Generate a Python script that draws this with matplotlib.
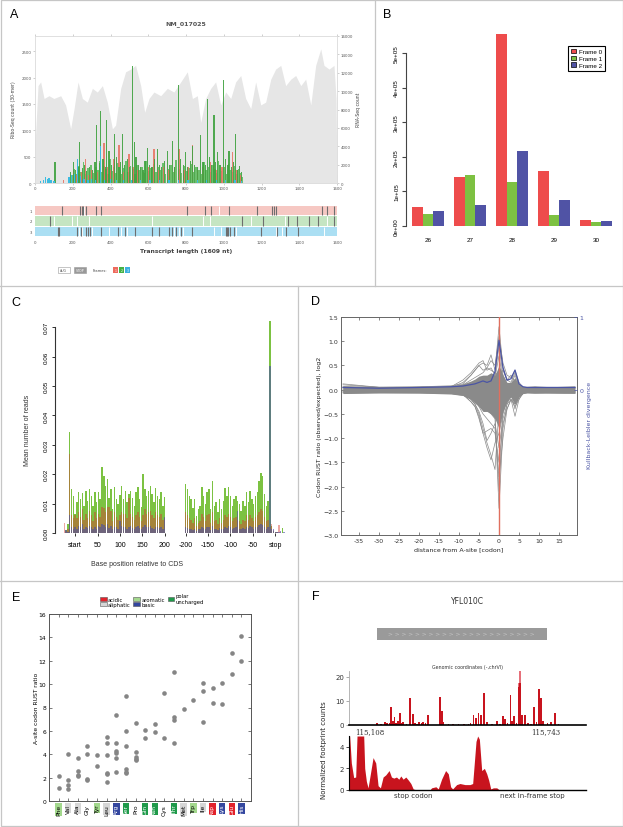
import numpy as np
import matplotlib
matplotlib.use('Agg')
import matplotlib.pyplot as plt
from matplotlib.patches import Rectangle, Patch
from matplotlib.lines import Line2D

W, H = 623, 828

# ---------------- panel A data ----------------
rna_pos = [0, 16, 30, 48, 74, 100, 136, 162, 189, 207, 228, 251, 277, 304, 330, 357, 383, 410,
           427, 454, 480, 507, 533, 560, 581, 604, 630, 666, 701, 736, 772, 807, 834, 860, 878,
           904, 931, 957, 984, 1010, 1037, 1063, 1090, 1116, 1143, 1169, 1196, 1222, 1249, 1275,
           1302, 1328, 1355, 1381, 1408, 1434, 1461, 1487, 1514, 1531, 1558, 1584, 1595, 1600]
rna_val = [4100, 10600, 11000, 9200, 9500, 9200, 9500, 8500, 5900, 8100, 11000, 9200, 8800, 10300,
           9900, 10600, 8800, 5900, 6300, 10300, 12100, 12400, 12800, 10600, 7700, 9200, 9900,
           9500, 10300, 9900, 11000, 12100, 9200, 9500, 6600, 9200, 10300, 11000, 8500, 9900,
           9200, 11000, 11700, 9200, 8100, 11000, 8500, 8800, 11300, 12400, 12800, 10600, 11300,
           11700, 10600, 11300, 8500, 12800, 14600, 12800, 12400, 12800, 9200, 0]

green_pos = [106, 190, 203, 215, 228, 238, 250, 262, 275, 290, 305, 318, 327, 340, 348, 360, 372,
             380, 392, 405, 422, 433, 445, 455, 463, 475, 488, 500, 516, 525, 535, 548, 560, 572,
             583, 595, 608, 620, 635, 648, 660, 672, 685, 701, 714, 728, 740, 759, 770, 785, 798,
             810, 822, 834, 846, 860, 878, 890, 902, 913, 925, 937, 948, 958, 966, 980, 998, 1010,
             1020, 1028, 1040, 1052, 1063, 1075, 1083, 1092]
green_h = [394, 200, 394, 250, 300, 770, 280, 350, 220, 300, 250, 400, 1094, 380, 1360, 450, 300,
           1200, 600, 350, 925, 500, 300, 400, 925, 350, 450, 300, 2220, 770, 500, 350, 300, 250,
           420, 656, 350, 300, 450, 640, 350, 300, 420, 610, 350, 800, 300, 1860, 450, 350, 580,
           300, 420, 700, 350, 300, 906, 400, 350, 1594, 500, 350, 1300, 400, 580, 350, 1956, 450,
           350, 610, 300, 400, 937, 250, 330, 200]
# smaller, paler green bars filling the coding region
green2_pos = [196, 209, 222, 233, 244, 256, 268, 282, 297, 311, 323, 334, 344, 354, 366, 376, 386,
              398, 411, 417, 428, 439, 450, 459, 469, 481, 494, 507, 520, 530, 541, 554, 566, 578,
              589, 601, 614, 627, 641, 654, 666, 678, 692, 707, 721, 734, 747, 765, 777, 792, 804,
              816, 828, 840, 853, 868, 884, 896, 907, 919, 931, 943, 953, 962, 973, 989, 1004, 1015,
              1024, 1034, 1046, 1058, 1069, 1079, 1088, 1096]
green2_h = [150, 260, 180, 320, 210, 400, 170, 280, 350, 190, 300, 240, 420, 200, 330, 260, 180,
            450, 230, 310, 190, 380, 250, 170, 290, 420, 210, 330, 260, 180, 350, 240, 300, 190,
            410, 220, 280, 360, 200, 300, 250, 380, 180, 270, 340, 210, 440, 260, 190, 320, 230,
            280, 360, 200, 310, 250, 180, 390, 240, 300, 200, 350, 260, 190, 420, 230, 300, 180,
            360, 250, 200, 320, 170, 260, 190, 120]
red_pos = [150, 203, 220, 245, 268, 285, 300, 330, 366, 385, 400, 419, 445, 470, 498, 520, 545,
           575, 600, 630, 655, 680, 710, 740, 763, 790, 815, 834, 860, 890, 931, 960, 990, 1020,
           1045, 1070, 1090]
red_h = [60, 240, 150, 200, 456, 150, 250, 200, 756, 300, 250, 456, 725, 200, 550, 300, 250, 200,
         300, 640, 250, 300, 250, 300, 640, 250, 300, 725, 250, 300, 394, 250, 300, 250, 580, 250,
         150]
cyan_pos = [30, 45, 57, 66, 74, 85, 100, 180, 195, 210, 224, 240, 260, 280, 300, 320, 348, 370,
            400, 430, 470, 510, 560, 610, 660, 710, 760, 810, 860, 910, 960, 1010, 1060, 1095]
cyan_h = [40, 60, 112, 80, 90, 50, 40, 120, 160, 180, 456, 140, 80, 60, 80, 60, 706, 60, 70, 50,
          60, 50, 60, 50, 60, 50, 60, 50, 60, 50, 60, 50, 60, 40]

stop_f1 = [141, 237, 247, 256, 270, 322, 352, 807, 901, 931, 1030, 1175, 1258, 1267, 1277, 1522,
           1545, 1584]
aug_f1 = [260, 975]
stop_f2 = [78, 1098, 1208, 1340, 1390, 1453, 1500, 1584]
aug_f2 = [101, 198, 224, 286, 622, 890, 925, 1146, 1323, 1549]
stop_f3 = [122, 127, 221, 242, 268, 281, 290, 348, 441, 475, 530, 622, 657, 710, 728, 745, 772,
           834, 1010, 1019, 1024, 1033, 1054, 1196, 1284, 1332, 1393]
aug_f3 = [233, 251, 304, 392, 457, 489, 736, 763, 786, 948, 987, 1063, 1275, 1310, 1531]

# ---------------- panel B data ----------------
read_lengths = ['26', '27', '28', '29', '30']
frame0 = [54700, 143000, 553700, 160300, 17300]
frame1 = [33600, 146800, 126700, 30700, 12500]
frame2 = [43200, 61400, 215900, 74900, 13400]

# ---------------- panel C data (mean reads, start side then stop side) ----------------
c_start_green = [0.0, 0.0010, 0.0030, 0.0343, 0.0150, 0.0125, 0.0065, 0.0105, 0.0139, 0.0116,
                 0.0136, 0.0093, 0.0144, 0.0110, 0.0150, 0.0127, 0.0093, 0.0139, 0.0105, 0.0139,
                 0.0116, 0.0224, 0.0195, 0.0160, 0.0184, 0.0120, 0.0150, 0.0082, 0.0156, 0.0116,
                 0.0099, 0.0130, 0.0160, 0.0116, 0.0144, 0.0105, 0.0133, 0.0144, 0.0118, 0.0093,
                 0.0139, 0.0156, 0.0116, 0.0088, 0.0200, 0.0150, 0.0127, 0.0144, 0.0161, 0.0133,
                 0.0105, 0.0152, 0.0127, 0.0116, 0.0139, 0.0093, 0.0122]
c_start_red = [0.0035, 0.0008, 0.0012, 0.0270, 0.0060, 0.0050, 0.0060, 0.0050, 0.0070, 0.0055,
               0.0080, 0.0045, 0.0065, 0.0050, 0.0075, 0.0060, 0.0040, 0.0070, 0.0050, 0.0065,
               0.0055, 0.0090, 0.0085, 0.0070, 0.0090, 0.0090, 0.0075, 0.0040, 0.0070, 0.0055,
               0.0045, 0.0060, 0.0070, 0.0065, 0.0065, 0.0050, 0.0120, 0.0065, 0.0055, 0.0045,
               0.0060, 0.0070, 0.0055, 0.0040, 0.0060, 0.0080, 0.0065, 0.0070, 0.0075, 0.0060,
               0.0050, 0.0070, 0.0060, 0.0055, 0.0065, 0.0045, 0.0050]
c_start_blue = [0.0, 0.0010, 0.0005, 0.0060, 0.0020, 0.0015, 0.0020, 0.0015, 0.0025, 0.0020,
                0.0030, 0.0015, 0.0020, 0.0018, 0.0025, 0.0020, 0.0012, 0.0022, 0.0015, 0.0025,
                0.0020, 0.0030, 0.0028, 0.0020, 0.0030, 0.0018, 0.0025, 0.0012, 0.0022, 0.0020,
                0.0015, 0.0040, 0.0025, 0.0020, 0.0022, 0.0015, 0.0020, 0.0025, 0.0018, 0.0012,
                0.0020, 0.0025, 0.0018, 0.0012, 0.0020, 0.0028, 0.0022, 0.0020, 0.0025, 0.0018,
                0.0015, 0.0022, 0.0020, 0.0018, 0.0022, 0.0015, 0.0055]
c_stop_green = [0.0167, 0.0150, 0.0127, 0.0116, 0.0084, 0.0116, 0.0059, 0.0082, 0.0093, 0.0156,
                0.0127, 0.0099, 0.0139, 0.0150, 0.0082, 0.0176, 0.0093, 0.0105, 0.0070, 0.0116,
                0.0082, 0.0110, 0.0152, 0.0127, 0.0156, 0.0127, 0.0093, 0.0116, 0.0127, 0.0110,
                0.0099, 0.0076, 0.0110, 0.0093, 0.0139, 0.0105, 0.0144, 0.0116, 0.0099, 0.0127,
                0.0139, 0.0178, 0.0203, 0.0195, 0.0133, 0.0093, 0.0110, 0.0722, 0.0025, 0.0007,
                0.0005, 0.0003, 0.0, 0.0, 0.0016, 0.0]
c_stop_red = [0.0070, 0.0060, 0.0050, 0.0045, 0.0035, 0.0050, 0.0025, 0.0035, 0.0040, 0.0065,
              0.0055, 0.0040, 0.0060, 0.0065, 0.0035, 0.0070, 0.0040, 0.0045, 0.0030, 0.0050,
              0.0035, 0.0045, 0.0060, 0.0055, 0.0065, 0.0055, 0.0040, 0.0050, 0.0055, 0.0045,
              0.0040, 0.0030, 0.0045, 0.0040, 0.0060, 0.0045, 0.0060, 0.0050, 0.0040, 0.0055,
              0.0060, 0.0070, 0.0080, 0.0075, 0.0055, 0.0040, 0.0045, 0.0020, 0.0030, 0.0010,
              0.0005, 0.0005, 0.0027, 0.0002, 0.0, 0.0]
c_stop_blue = [0.0020, 0.0018, 0.0015, 0.0012, 0.0010, 0.0015, 0.0008, 0.0012, 0.0015, 0.0020,
               0.0018, 0.0012, 0.0020, 0.0022, 0.0010, 0.0025, 0.0012, 0.0015, 0.0010, 0.0018,
               0.0012, 0.0015, 0.0022, 0.0018, 0.0025, 0.0020, 0.0015, 0.0018, 0.0020, 0.0075,
               0.0015, 0.0012, 0.0018, 0.0015, 0.0022, 0.0018, 0.0025, 0.0020, 0.0015, 0.0020,
               0.0022, 0.0028, 0.0030, 0.0028, 0.0020, 0.0015, 0.0020, 0.0569, 0.0015, 0.0012,
               0.0005, 0.0003, 0.0002, 0.0008, 0.0, 0.0003]
c_tick_labels = ['start', '50', '100', '150', '200', '-200', '-150', '-100', '-50', 'stop']

# ---------------- panel D data (values at a few codon positions) ----------------
d_pos = [-39, -30, -20, -12, -9, -7, -6, -5, -4, -3, -2, -1, 0, 1, 2, 3, 4, 5, 6, 7, 9, 12, 19]
d_core_hi = [0.08, 0.06, 0.06, 0.07, 0.12, 0.18, 0.22, 0.28, 0.30, 0.30, 0.35, 0.30, 0.50, 0.30,
             0.15, 0.15, 0.25, 0.10, 0.06, 0.05, 0.05, 0.05, 0.05]
d_core_lo = [-0.08, -0.07, -0.07, -0.09, -0.12, -0.20, -0.28, -0.35, -0.45, -0.45, -0.50, -0.60,
             -0.80, -0.45, -0.25, -0.15, -0.30, -0.15, -0.08, -0.07, -0.07, -0.07, -0.07]
d_lines = [
    [0.10, 0.05, 0.06, 0.08, 0.12, 0.30, 0.40, 0.50, 0.55, 0.50, 0.72, 0.40, 1.30, 0.45, 0.20, 0.15, 0.35, 0.10, 0.05, 0.04, 0.05, 0.04, 0.06],
    [-0.05, -0.04, -0.05, -0.06, -0.10, -0.20, -0.30, -0.50, -0.80, -1.10, -1.35, -1.65, -0.40, -0.20, -0.10, -0.10, -0.30, -0.15, -0.05, -0.05, -0.05, -0.05, -0.05],
    [-0.03, -0.05, -0.04, -0.05, -0.08, -0.10, -0.15, -0.20, -0.30, -0.40, -0.50, -0.60, -2.45, -0.80, -0.30, -0.10, -0.20, -0.10, -0.05, -0.04, -0.05, -0.04, -0.04],
    [-0.06, -0.05, -0.06, -0.07, -0.10, -0.25, -0.35, -0.60, -0.90, -1.20, -1.45, -1.10, -0.90, -0.50, -0.20, -0.10, -0.40, -0.10, -0.06, -0.05, -0.06, -0.05, -0.06],
    [0.02, -0.02, -0.03, -0.04, -0.08, -0.20, -0.30, -0.45, -0.70, -1.05, -0.90, -0.70, -1.20, -0.60, -0.30, -0.20, -0.55, -0.20, -0.05, -0.04, -0.03, -0.04, -0.03],
    [0.05, 0.04, 0.05, 0.06, 0.20, 0.35, 0.45, 0.55, 0.60, 0.40, 0.45, 0.30, 0.90, 0.30, 0.10, 0.10, 0.20, 0.05, 0.03, 0.03, 0.04, 0.03, 0.04],
    [0.12, 0.05, 0.05, 0.05, 0.15, 0.30, 0.40, 0.50, 0.40, 0.45, 0.60, 0.50, 1.10, 0.55, 0.30, 0.25, 0.40, 0.15, 0.05, 0.05, 0.05, 0.04, 0.05],
    [-0.04, -0.06, -0.05, -0.06, -0.10, -0.25, -0.35, -0.55, -0.90, -0.85, -0.80, -0.90, -1.50, -0.70, -0.40, -0.20, -0.35, -0.20, -0.08, -0.06, -0.07, -0.06, -0.07],
    [-0.02, 0.02, 0.03, 0.03, 0.05, 0.10, 0.15, 0.20, 0.25, 0.20, 0.30, 0.25, 0.70, 0.20, 0.05, 0.10, 0.30, 0.08, 0.02, 0.02, 0.02, 0.03, 0.02],
    [0.0, -0.02, -0.02, -0.03, -0.05, -0.15, -0.20, -0.35, -0.50, -0.60, -0.70, -0.80, -1.80, -1.00, -0.40, -0.20, -0.30, -0.15, -0.04, -0.03, -0.03, -0.03, -0.02],
    [-0.07, -0.06, -0.07, -0.08, -0.12, -0.18, -0.25, -0.30, -0.40, -0.35, -0.45, -0.50, -2.10, -0.30, -0.15, -0.10, -0.25, -0.12, -0.07, -0.06, -0.07, -0.07, -0.08],
    [0.06, 0.05, 0.05, 0.06, 0.10, 0.20, 0.25, 0.30, 0.35, 0.45, 0.40, 0.35, 0.30, 0.40, 0.20, 0.30, 0.15, 0.10, 0.05, 0.05, 0.06, 0.05, 0.05],
]
d_kl = [0.03, 0.02, 0.03, 0.04, 0.05, 0.07, 0.08, 0.10, 0.12, 0.10, 0.12, 0.25, 0.68, 0.30, 0.13,
        0.15, 0.27, 0.08, 0.04, 0.03, 0.03, 0.03, 0.03]

# ---------------- panel E data ----------------
aa_names = ['Phe', 'Val', 'Ala', 'Gly', 'Tyr', 'Leu', 'Arg', 'Ser', 'Pro', 'Gln', 'Asn', 'Cys',
            'Thr', 'Met', 'Trp', 'Ile', 'Asp', 'Lys', 'Glu', 'His']
aa_class = ['aromatic', 'aliphatic', 'aliphatic', None, 'aromatic', 'aliphatic', 'basic', 'polar',
            None, 'polar', 'polar', None, 'polar', 'aliphatic', 'aromatic', 'aliphatic', 'acidic',
            'basic', 'acidic', 'basic']
aa_rust = [[2.1, 1.1], [4.0, 1.8, 1.4, 1.0], [3.7, 2.6, 2.2, 2.1], [4.7, 4.0, 1.9, 1.8],
           [3.9, 3.0], [5.5, 5.0, 3.9, 2.4, 2.3, 1.6], [7.4, 5.0, 4.3, 4.1, 3.7, 2.5],
           [9.0, 6.0, 4.7, 2.7, 2.5, 2.4], [6.7, 4.2, 3.8, 3.6, 3.5], [6.1, 5.4], [6.6, 5.9],
           [9.2, 5.4], [11.0, 7.2, 6.9, 5.0], [7.9], [8.6], [10.1, 9.4, 6.8], [9.7, 8.4],
           [10.1, 8.3], [12.7, 10.9], [14.1, 12.0]]
class_colors = {'acidic': '#e2222b', 'aliphatic': '#d6d6d6', 'aromatic': '#a3d88d',
                'basic': '#34479f', 'polar': '#1f9a4a'}

# ---------------- panel F data ----------------
f_pos = [25, 40, 54, 62, 70, 76, 82, 88, 94, 100, 109, 115, 120, 132, 144, 154, 162, 170, 177,
         185, 192, 200, 208, 252, 259, 265, 283, 300, 319, 340, 355, 362, 373, 381, 391, 400, 411,
         421, 440, 457, 468, 479, 487, 496, 507, 513, 520, 528, 535, 541, 548, 559, 570, 580, 592,
         600, 610, 616, 625, 640, 652, 667, 680]
f_h = [0.7, 0.5, 1.1, 0.8, 1.0, 7.3, 1.5, 3.2, 0.8, 1.8, 4.9, 1.0, 1.1, 0.6, 11.4, 4.6, 0.8, 0.5,
       1.1, 0.9, 1.4, 0.7, 4.2, 11.7, 6.0, 1.2, 0.4, 0.3, 0.4, 0.6, 0.4, 1.0, 4.2, 3.1, 5.1, 4.2,
       13.4, 1.1, 0.5, 1.8, 0.6, 3.7, 2.5, 1.0, 12.7, 1.5, 3.9, 1.0, 15.9, 17.3, 4.2, 4.2, 1.0,
       0.6, 7.5, 1.2, 15.2, 11.4, 1.8, 1.0, 1.3, 5.1, 0.4]
f_light_pos = [541, 535]
f_light_h = [22.5, 17.3]
f_coord_labels = ['115,108', '115,743']
f_stop_pos = [-96, -95, -92.5, -89, -86, -84, -74, -72.5, -70, -67.5, -64, -60, -56, -52.5, -49,
              -45, -41, -36, -32.5, -29, -25, -21.5, -18.5, -15, -11, -7, -3.5, 0, 5, 25, 27.5,
              34, 37.5, 42.5, 48.5, 52.5, 56, 59, 65, 70, 77.5, 85, 89, 94, 96.5, 99, 102.5,
              106.5, 110, 113, 116, 120, 125, 129, 258]
f_stop_val = [5, 5, 2.5, 1.15, 1.2, 5, 5, 2.0, 0.8, 0.2, 1.5, 3.0, 2.5, 0.4, 0.2, 1.2, 1.4, 1.8,
              1.2, 1.1, 1.2, 1.0, 1.3, 1.0, 1.2, 0.9, 0.6, 0.1, 0, 0, 0.2, 0.3, 0.1, 1.0, 1.8, 1.5,
              0.3, 0.1, 0.5, 0.6, 0.5, 0.5, 0.6, 4.5, 5.0, 4.7, 1.8, 2.0, 1.5, 0.9, 0.1, 0.2, 0.2,
              0.0, 0.0]

# ---------------- helpers ----------------
fig = plt.figure(figsize=(W / 100, H / 100), dpi=100)


def ax_px(l, t, r, b):
    return fig.add_axes([l / W, 1 - b / H, (r - l) / W, (b - t) / H])


def txt(x, y, s, **kw):
    kw.setdefault('ha', 'center')
    kw.setdefault('va', 'center')
    fig.text(x / W, 1 - y / H, s, **kw)


def rect(x0, y0, x1, y1, **kw):
    fig.add_artist(Rectangle((x0 / W, 1 - y1 / H), (x1 - x0) / W, (y1 - y0) / H,
                             transform=fig.transFigure, **kw))


def line(x0, y0, x1, y1, **kw):
    fig.add_artist(Line2D([x0 / W, x1 / W], [1 - y0 / H, 1 - y1 / H], transform=fig.transFigure, **kw))


ARIAL = ['Liberation Sans', 'DejaVu Sans']

# panel frames
for seg in [(0, 287, 623, 287), (375, 0, 375, 287), (0, 582, 623, 582), (298, 287, 298, 826)]:
    line(*seg, color='#c6c6c6', lw=0.9)
rect(0.5, 0.5, 622.5, 826.5, fill=False, edgecolor='#c6c6c6', lw=0.9)

for lab, x, y in [('A', 14, 15), ('B', 387, 15), ('C', 16, 303), ('D', 316, 302), ('E', 16, 598),
                  ('F', 316, 597)]:
    txt(x, y, lab, fontsize=9, family=ARIAL)

# ================= A =================
axA = ax_px(35, 37, 337, 184)
axR = axA.twinx()
axR.fill_between(rna_pos, rna_val, color='#e6e6e6', lw=0)
axR.set_ylim(0, 16000)
axR.set_yticks(range(0, 16001, 2000))
axA.set_zorder(axR.get_zorder() + 1)
axA.patch.set_visible(False)
axA.bar(green2_pos, green2_h, width=8, color='#6cbf6c', lw=0)
axA.bar(red_pos, red_h, width=7, color='#e8705f', alpha=0.85, lw=0)
axA.bar(green_pos, green_h, width=6, color='#3fa23f', alpha=0.9, lw=0)
axA.bar(cyan_pos, cyan_h, width=7, color='#3cbbe0', lw=0)
axA.set_xlim(0, 1600)
axA.set_ylim(0, 2790)
axA.set_xticks(range(0, 1601, 200))
axA.set_yticks(range(0, 2501, 500))
for a in (axA, axR):
    a.tick_params(labelsize=2.8, length=1.5, width=0.4, color='#aaaaaa', labelcolor='#555555', pad=1)
    for s in a.spines.values():
        s.set_color('#dddddd')
        s.set_linewidth(0.5)
axA.tick_params(top=True)
txt(186, 24, 'NM_017025', fontsize=4.5, fontweight='bold', color='#555555')
txt(14, 110, 'Ribo-Seq count (30-mer)', fontsize=3.3, rotation=90, color='#444444')
txt(358, 110, 'RNA-Seq count', fontsize=3.3, rotation=90, color='#444444')

axT = ax_px(35, 206, 337, 238)
axT.barh([2.5, 1.5, 0.5], [1600] * 3, left=0, height=0.9,
         color=['#f6c8c3', '#c5e5c2', '#abdff3'], lw=0)
for yc, st, au in [(2.5, stop_f1, aug_f1), (1.5, stop_f2, aug_f2), (0.5, stop_f3, aug_f3)]:
    axT.vlines(au, yc - 0.45, yc + 0.45, color='white', lw=0.7)
    axT.vlines(st, yc - 0.45, yc + 0.45, color='#6e6e6e', lw=0.8)
axT.set_xlim(0, 1600)
axT.set_ylim(0, 3)
axT.set_xticks(range(0, 1601, 200))
axT.set_yticks([2.5, 1.5, 0.5])
axT.set_yticklabels(['1', '2', '3'])
axT.tick_params(labelsize=2.8, length=0, labelcolor='#555555', pad=2)
for s in axT.spines.values():
    s.set_visible(False)
txt(186, 252, 'Transcript length (1609 nt)', fontsize=4.3, fontweight='bold', color='#444444')

rect(58, 268, 70, 274, facecolor='white', edgecolor='#999999', lw=0.4)
txt(64, 271, 'AUG', fontsize=2.3, color='#666666')
rect(74, 268, 86, 274, facecolor='#999999', edgecolor='#999999', lw=0.4)
txt(80, 271, 'STOP', fontsize=2.3, color='white')
txt(100, 271, 'Frames:', fontsize=2.6, color='#444444')
for i, c in enumerate(['#ee6b5e', '#44b044', '#3cb0e0']):
    rect(113 + 6 * i, 268, 118 + 6 * i, 274, facecolor=c, lw=0)
    txt(115.5 + 6 * i, 271, str(i + 1), fontsize=2.3, color='white')

# ================= B =================
axB = ax_px(406, 33, 613, 227)
gx = np.arange(len(read_lengths)) * 4 + 2.5
for k, (vals, c, lab) in enumerate([(frame0, '#ee4c4c', 'Frame 0'), (frame1, '#7dc142', 'Frame 1'),
                                    (frame2, '#5053a5', 'Frame 2')]):
    axB.bar(gx - 1 + k, vals, width=1, color=c, lw=0, label=lab)
axB.set_xlim(0.4, 20.1)
axB.set_ylim(0, 5.607e5)
axB.set_yticks(np.arange(0, 5.01e5, 1e5))
axB.set_yticklabels(['0e+00', '1e+05', '2e+05', '3e+05', '4e+05', '5e+05'], rotation=90, va='center',
                    family=ARIAL)
axB.set_xticks(gx)
axB.set_xticklabels(read_lengths, family=ARIAL)
axB.tick_params(axis='y', labelsize=4.5, length=3, width=0.8, color='#444444', pad=2)
axB.tick_params(axis='x', labelsize=4.5, length=0, pad=8)
for s in ['top', 'right', 'bottom']:
    axB.spines[s].set_visible(False)
axB.spines['left'].set_bounds(0, 5e5)
axB.spines['left'].set_color('#444444')
hB = [Patch(facecolor=c, edgecolor='black', lw=0.5) for c in ['#ee4c4c', '#7dc142', '#5053a5']]
axB.legend(hB, ['Frame 0', 'Frame 1', 'Frame 2'], loc='upper right', bbox_to_anchor=(0.961, 0.928),
           borderaxespad=0, fancybox=False, edgecolor='black', framealpha=1,
           prop={'family': ARIAL, 'size': 4.5}, handlelength=0.7, handleheight=0.7,
           handletextpad=0.5, labelspacing=0.2, borderpad=0.5).get_frame().set_linewidth(0.8)

# ================= C =================
axC = ax_px(55, 318, 290, 534)
xs_start = np.arange(-24, 201, 4)
xs_stop = np.arange(-200, 21, 4) + 447
for xs, g, r, b in [(xs_start, c_start_green, c_start_red, c_start_blue),
                    (xs_stop, c_stop_green, c_stop_red, c_stop_blue)]:
    axC.bar(xs, g, width=3.2, color='#7cc242', lw=0)
    axC.bar(xs, r, width=3.2, color='#d93a30', alpha=0.45, lw=0)
    axC.bar(xs, b, width=3.2, color='#4a4fa8', alpha=0.6, lw=0)
axC.set_xlim(-45, 480)
axC.set_ylim(0, 0.0735)
axC.set_xticks([0, 50, 100, 150, 200, 247, 297, 347, 397, 447])
axC.set_xticklabels(c_tick_labels, family=ARIAL)
axC.set_yticks(np.arange(0, 0.0701, 0.01))
axC.set_yticklabels(['%.2f' % v for v in np.arange(0, 0.0701, 0.01)], rotation=90, va='center',
                    family=ARIAL)
axC.tick_params(axis='y', labelsize=4.5, length=2.5, width=0.7, color='#333333', pad=2)
axC.tick_params(axis='x', labelsize=5, length=2.5, width=0.7, color='#333333', pad=3)
for s in ['top', 'right', 'bottom']:
    axC.spines[s].set_visible(False)
axC.spines['left'].set_bounds(0, 0.07)
axC.spines['left'].set_color('#333333')
txt(28, 430, 'Mean number of reads', fontsize=5, rotation=90, family=ARIAL, color='#333333')
txt(137, 564, 'Base position relative to CDS', fontsize=5, family=ARIAL, color='#333333')

# ================= D =================
axD = ax_px(341, 318, 577, 536)
axD.fill_between(d_pos, d_core_lo, d_core_hi, color='#8a8a8a', lw=0)
for vals in d_lines:
    axD.plot(d_pos, vals, color='#8a8a8a', lw=0.5)
axD.axvline(0, color='#e0705f', lw=1.0, zorder=5)
axD.set_xlim(-39.5, 19.5)
axD.set_ylim(-3, 1.5)
axD.set_xticks(range(-35, 16, 5))
axD.set_xticklabels([str(v) for v in range(-35, 16, 5)])
dy = np.arange(-3, 1.51, 0.5)
axD.set_yticks(dy)
axD.set_yticklabels([('%.1f' % v).replace('-', '\u2212') for v in dy])
axD.tick_params(labelsize=4.5, direction='in', length=2.5, width=0.5, top=True, color='#555555',
                labelcolor='#333333', pad=2)
for s in axD.spines.values():
    s.set_color('#666666')
    s.set_linewidth(0.7)
axK = axD.twinx()
axK.plot(d_pos, d_kl, color='#4b55a5', lw=0.9)
axK.set_ylim(-2, 1)
axK.set_yticks([0, 1])
axK.tick_params(labelsize=4.5, direction='in', length=2.5, width=0.5, color='#4b55a5',
                labelcolor='#4b55a5', pad=2)
for s in axK.spines.values():
    s.set_visible(False)
txt(319, 427, 'Codon RUST ratio (observed/expected), log2', fontsize=4.5, rotation=90, color='#222222')
txt(590, 425, 'Kullback-Leibler divergence', fontsize=4.5, rotation=90, color='#4b55a5')
txt(459, 550, 'distance from A-site [codon]', fontsize=4.5, color='#222222')

# ================= E =================
axE = ax_px(49, 615, 251, 802)
for i, vals in enumerate(aa_rust):
    axE.scatter([i] * len(vals), vals, s=11, color='#858585', lw=0, zorder=3)
axE.set_xlim(-1, 20)
axE.set_ylim(0, 16)
axE.set_yticks(range(0, 17, 2))
axE.set_xticks(range(len(aa_names)))
axE.set_xticklabels(aa_names, rotation=90)
axE.tick_params(labelsize=4.3, direction='in', length=2.5, width=0.5, top=True, right=True,
                color='#444444', pad=2)
for lbl, cl in zip(axE.get_xticklabels(), aa_class):
    if cl is not None:
        lbl.set_bbox(dict(facecolor=class_colors[cl], edgecolor='none', pad=0.5))
        if cl in ('acidic', 'basic', 'polar'):
            lbl.set_color('white')
for s in axE.spines.values():
    s.set_color('#555555')
    s.set_linewidth(0.7)
txt(37, 708, 'A-site codon RUST ratio', fontsize=4.3, rotation=90)
hE = [Patch(facecolor=class_colors[k], edgecolor='#555555', lw=0.4)
      for k in ['acidic', 'aliphatic', 'aromatic', 'basic', 'polar']]
fig.legend(hE, ['acidic', 'aliphatic', 'aromatic', 'basic', 'polar\nuncharged'], ncol=3,
           loc='center', bbox_to_anchor=(152 / W, 1 - 601 / H), frameon=False, fontsize=3.8,
           handlelength=1.2, handleheight=0.8, columnspacing=0.5, labelspacing=0.05,
           handletextpad=0.3)

# ================= F =================
txt(467, 602, 'YFL010C', fontsize=5.5, color='#333333')
rect(377, 629, 547, 641, facecolor='#9a9a9a', lw=0)
txt(462, 635, '> ' * 22, fontsize=4.2, color='#c4c4c4')
txt(467, 668, 'Genomic coordinates (-,chrVI)', fontsize=3.4, color='#333333')

axF1 = ax_px(349, 672, 586, 726)
axF1.bar(f_light_pos, f_light_h, width=6, color='#e6707a', lw=0)
axF1.bar(f_pos, f_h, width=6, color='#c8141e', lw=0)
axF1.set_xlim(-76, 779)
axF1.set_ylim(0, 22.5)
axF1.set_yticks([0, 10, 20])
axF1.set_xticks([0, 635])
axF1.set_xticklabels(f_coord_labels, family='DejaVu Serif')
axF1.tick_params(labelsize=5, length=0, pad=1.5, labelcolor='#333333')
axF1.tick_params(axis='y', length=2, width=0.5, color='#888888')
for s in ['top', 'right']:
    axF1.spines[s].set_visible(False)
axF1.spines['left'].set_color('#aaaaaa')
axF1.spines['left'].set_linewidth(0.6)
axF1.spines['bottom'].set_linewidth(1.2)

axF2 = ax_px(349, 737, 586, 791)
axF2.fill_between(f_stop_pos, f_stop_val, color='#c8141e', lw=0)
axF2.set_xlim(-96, 258.5)
axF2.set_ylim(0, 5)
axF2.set_yticks([0, 2, 4])
axF2.set_xticks([0, 177.5])
axF2.set_xticklabels(['stop codon', 'next in-frame stop'])
axF2.tick_params(labelsize=5, length=0, pad=1.5, labelcolor='#333333')
axF2.tick_params(axis='y', length=2, width=0.5)
for s in ['top', 'right']:
    axF2.spines[s].set_visible(False)
axF2.spines['left'].set_linewidth(0.8)
axF2.spines['bottom'].set_linewidth(1.0)
txt(324, 750, 'Normalized footprint counts', fontsize=5, rotation=90, color='#222222')

fig.savefig('out.png', dpi=100)
